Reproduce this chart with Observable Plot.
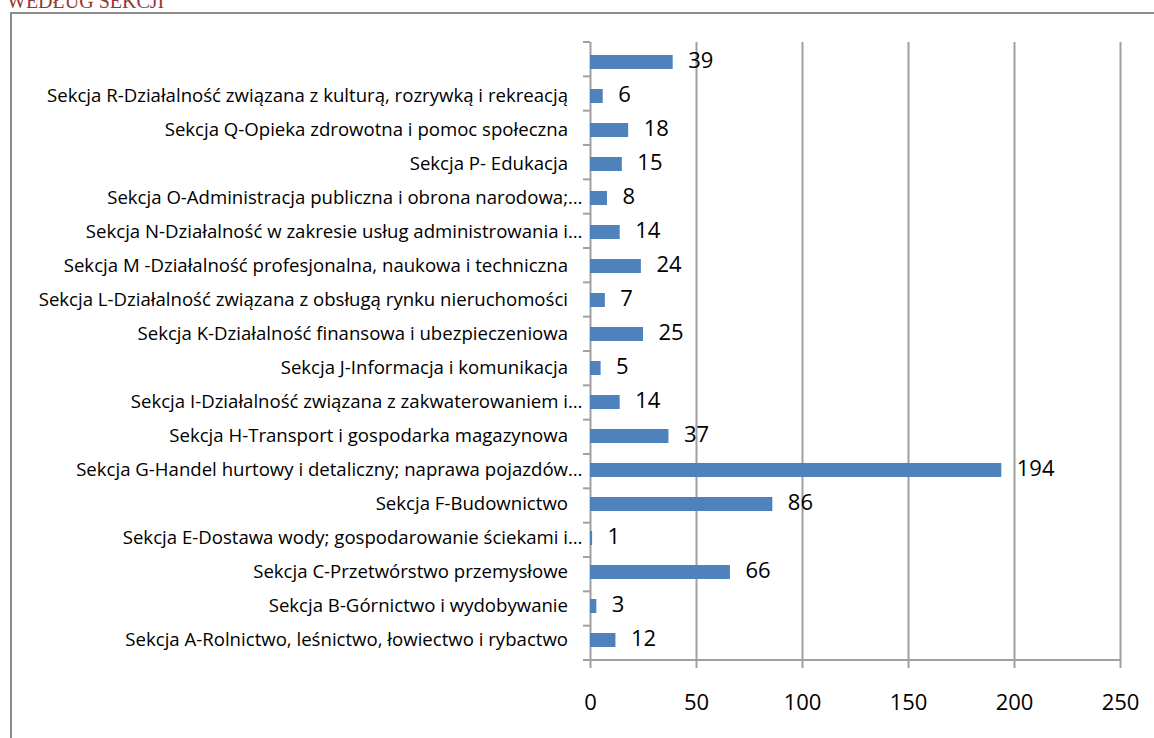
<!DOCTYPE html>
<html>
<head>
<meta charset="utf-8">
<script src="https://cdn.jsdelivr.net/npm/d3@7"></script>
<script src="https://cdn.jsdelivr.net/npm/@observablehq/plot@0.6"></script>
<style>
  html, body { margin: 0; padding: 0; background: #fff; overflow: hidden; }
  #wrap { position: relative; width: 1154px; height: 738px; }
  #frame { position: absolute; left: 10px; top: 12px; width: 1200px; height: 800px;
           border-left: 2px solid #8c8c8c; border-top: 2px solid #8c8c8c; box-sizing: border-box; }
  #title { position: absolute; left: 7px; top: -9px; font-family: "Liberation Serif", serif;
           font-size: 20px; color: #953735; line-height: 20px; white-space: nowrap; }
  #chart { position: absolute; left: 0; top: 0; }
</style>
</head>
<body>
<div id="wrap">
  <div id="frame"></div>
  <div id="title">WEDŁUG SEKCJI</div>
  <div id="chart"></div>
</div>
<script>
const categories = [
  "",
  "Sekcja R-Działalność związana z kulturą, rozrywką i rekreacją",
  "Sekcja Q-Opieka zdrowotna i pomoc społeczna",
  "Sekcja P- Edukacja",
  "Sekcja O-Administracja publiczna i obrona narodowa;…",
  "Sekcja N-Działalność w zakresie usług administrowania i…",
  "Sekcja M -Działalność profesjonalna, naukowa i techniczna",
  "Sekcja L-Działalność związana z obsługą rynku nieruchomości",
  "Sekcja K-Działalność finansowa i ubezpieczeniowa",
  "Sekcja J-Informacja i komunikacja",
  "Sekcja I-Działalność związana z zakwaterowaniem i…",
  "Sekcja H-Transport i gospodarka magazynowa",
  "Sekcja G-Handel hurtowy i detaliczny; naprawa pojazdów…",
  "Sekcja F-Budownictwo",
  "Sekcja E-Dostawa wody; gospodarowanie ściekami i…",
  "Sekcja C-Przetwórstwo przemysłowe",
  "Sekcja B-Górnictwo i wydobywanie",
  "Sekcja A-Rolnictwo, leśnictwo, łowiectwo i rybactwo"
];
const values = [39, 6, 18, 15, 8, 14, 24, 7, 25, 5, 14, 37, 194, 86, 1, 66, 3, 12];
const xTicks = [0, 50, 100, 150, 200, 250];

const data = categories.map((c, i) => ({cat: c, value: values[i]}));

const W = 1154, H = 738, mT = 42, mB = 78, mL = 590, mR = 34;
const grey = "#a0a0a0";

// category boundary ticks + bottom axis line
function boundaries(index, scales, vals, dims) {
  const g = d3.create("svg:g");
  const n = categories.length;
  const step = (dims.height - dims.marginTop - dims.marginBottom) / n;
  const x0 = dims.marginLeft;
  for (let i = 0; i <= n; i++) {
    const y = dims.marginTop + i * step;
    g.append("line").attr("x1", x0 - 7).attr("x2", x0).attr("y1", y).attr("y2", y)
      .attr("stroke", grey).attr("stroke-width", 2);
  }
  const yb = dims.height - dims.marginBottom;
  g.append("line").attr("x1", x0 - 1).attr("x2", dims.width - dims.marginRight + 1)
    .attr("y1", yb).attr("y2", yb).attr("stroke", grey).attr("stroke-width", 2);
  return g.node();
}

const chart = Plot.plot({
  width: W, height: H,
  marginTop: mT, marginBottom: mB, marginLeft: mL, marginRight: mR,
  style: {fontFamily: "'Open Sans', sans-serif", background: "transparent", color: "black"},
  x: {domain: [0, 250], axis: null, label: null},
  y: {domain: categories, paddingInner: 0.59, paddingOuter: 0.295, axis: null, label: null},
  marks: [
    Plot.ruleX(xTicks, {stroke: grey, strokeWidth: 2, strokeOpacity: 1}),
    Plot.barX(data, {x: "value", y: "cat", fill: "#4F81BD"}),
    Plot.text(data, {x: "value", y: "cat", text: d => String(d.value), dx: 15, dy: -2,
      textAnchor: "start", fontSize: 22, fill: "black"}),
    boundaries,
    Plot.axisX({ticks: xTicks, tickSize: 8, tickPadding: 26, fontSize: 22, label: null,
      stroke: grey, strokeWidth: 2, strokeOpacity: 1, fill: "black", tickFormat: d => String(d)}),
    Plot.axisY({tickSize: 0, tickPadding: 8, fontSize: 18.6, fill: "black", label: null,
      tickFormat: d => d.endsWith("…") || d === "" ? d : d + "\u00a0\u00a0\u00a0"})
  ]
});
document.getElementById("chart").appendChild(chart);
</script>
</body>
</html>
